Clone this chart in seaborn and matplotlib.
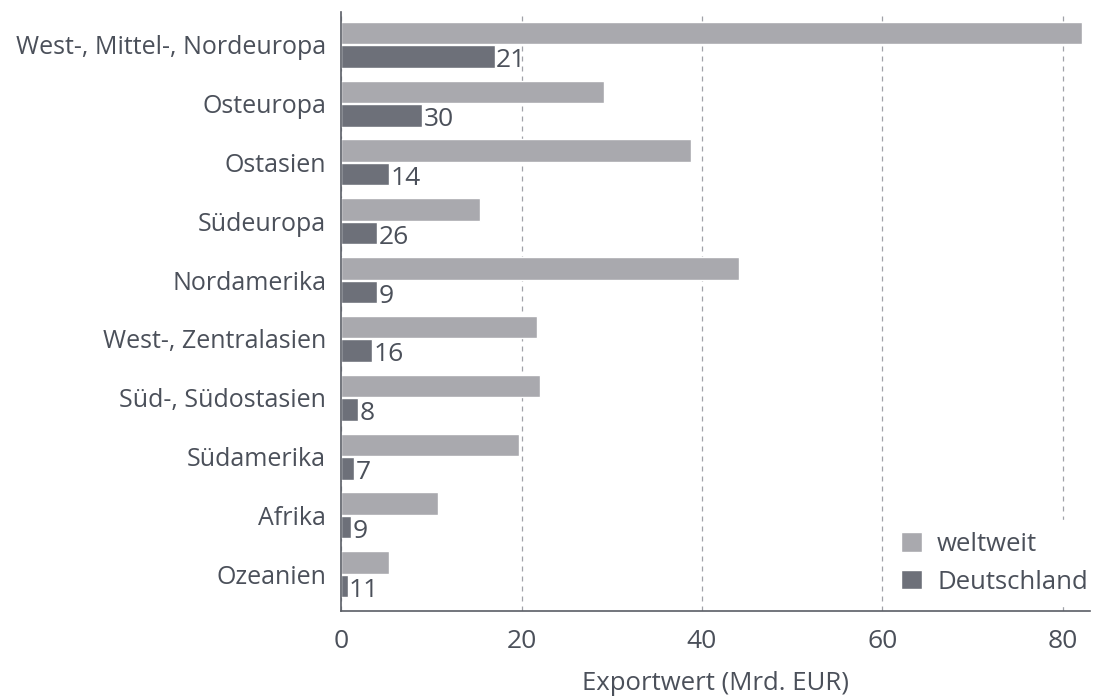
import numpy as np
import pandas as pd
import matplotlib
matplotlib.use('Agg')
import matplotlib.pyplot as plt
import seaborn as sns

regions = ['West-, Mittel-, Nordeuropa', 'Osteuropa', 'Ostasien', 'Südeuropa', 'Nordamerika',
           'West-, Zentralasien', 'Süd-, Südostasien', 'Südamerika', 'Afrika', 'Ozeanien']
weltweit = [82.1, 29.1, 38.8, 15.4, 44.1, 21.7, 22.0, 19.7, 10.7, 5.3]
deutschland = [17.0, 9.0, 5.3, 4.0, 4.0, 3.4, 1.9, 1.4, 1.1, 0.7]
anteil = [21, 30, 14, 26, 9, 16, 8, 7, 9, 11]
series = ['weltweit', 'Deutschland']
colors = ['#a9a9ae', '#6d7079']

txt_col = '#4b505a'
sns.set_style('white')
plt.rcParams['font.family'] = ['Open Sans', 'DejaVu Sans']

df = pd.DataFrame({'Region': regions * 2,
                   'Wert': weltweit + deutschland,
                   'Serie': [series[0]] * len(regions) + [series[1]] * len(regions)})

fig, ax = plt.subplots(figsize=(10.94, 6.97), dpi=100)
fig.subplots_adjust(left=0.312, right=0.996, top=0.983, bottom=0.123)
sns.barplot(ax=ax, data=df, y='Region', x='Wert', hue='Serie', orient='h',
            palette=colors, width=0.8, gap=0.04, saturation=1, errorbar=None)

# share labels, sitting a little below the bar centre like the original
lbls = ax.bar_label(ax.containers[1], labels=[str(a) for a in anteil], padding=1,
                    fontsize=19, color=txt_col)
for t in lbls:
    t.set_y(-3)

ax.set_xlim(0, 83)
ax.set_ylim(9.63, -0.56)
ax.set_xticks([0, 20, 40, 60, 80])
ax.xaxis.grid(True, linestyle=(0, (4, 4)), color='#a0a2a8', linewidth=0.9)
ax.set_axisbelow(True)
for s in ['top', 'right']:
    ax.spines[s].set_visible(False)
for s in ['left', 'bottom']:
    ax.spines[s].set_color('#5a5e66')
    ax.spines[s].set_linewidth(1.2)
ax.tick_params(axis='x', length=9, width=1.2, color='#5a5e66', labelsize=19,
               labelcolor=txt_col, pad=4)
ax.tick_params(axis='y', length=4, width=1.2, color='#5a5e66', labelsize=18,
               labelcolor=txt_col, pad=7)
ax.set_ylabel('')
ax.set_xlabel('Exportwert (Mrd. EUR)', fontsize=18.5, color=txt_col, labelpad=12)

leg = ax.legend(loc='lower right', bbox_to_anchor=(1.02, 0.0), frameon=True,
                fontsize=18.5, handlelength=0.8, handleheight=0.8, handletextpad=0.6,
                labelspacing=0.5, borderpad=0.45, borderaxespad=0.2)
leg.get_frame().set_facecolor('white')
leg.get_frame().set_edgecolor('white')
leg.get_frame().set_alpha(1)
for t in leg.get_texts():
    t.set_color(txt_col)

plt.savefig('out.png', dpi=100)
